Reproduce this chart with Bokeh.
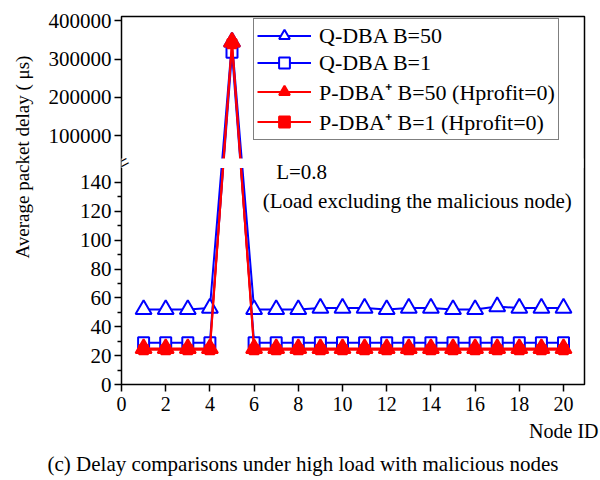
import math
from bokeh.plotting import figure
from bokeh.models import (ColumnDataSource, FixedTicker, CustomJSTransform, CustomJSTickFormatter,
                          Legend, LegendItem, Label, BoxAnnotation, Title)
from bokeh.transform import transform
from bokeh.embed import file_html
from bokeh.resources import INLINE

# ---------------- data ----------------
node_id = [1, 2, 3, 4, 5, 6, 7, 8, 9, 10, 11, 12, 13, 14, 15, 16, 17, 18, 19, 20]
q_dba_b50 = [52, 52, 52, 53, 345000, 52, 52, 52, 53, 53, 53, 52, 53, 53, 52, 52, 54, 53, 53, 53]
q_dba_b1 = [29, 29, 29, 29, 318000, 29, 29, 29, 29, 29, 29, 29, 29, 29, 29, 29, 29, 29, 29, 29]
p_dba_b50 = [25, 25, 25, 25, 345000, 25, 25, 25, 25, 25, 25, 25, 25, 25, 25, 25, 25, 25, 25, 25]
p_dba_b1 = [24, 24, 24, 24, 340000, 24, 24, 24, 24, 24, 24, 24, 24, 24, 24, 24, 24, 24, 24, 24]

x_ticks = [0, 2, 4, 6, 8, 10, 12, 14, 16, 18, 20]
y_ticks_low = [0, 20, 40, 60, 80, 100, 120, 140]
y_minor_low = [10, 30, 50, 70, 90, 110, 130]
y_ticks_high = [100000, 200000, 300000, 400000]

series_labels = ["Q-DBA B=50", "Q-DBA B=1", "P-DBA\u207a B=50 (Hprofit=0)", "P-DBA\u207a B=1 (Hprofit=0)"]
y_label = "Average packet delay ( \u03bcs)"
x_label = "Node ID"
caption = "(c) Delay comparisons under high load with malicious nodes"

# ---------------- broken-axis mapping ----------------
LOW_TOP = 150          # top of lower segment (data value == display value)
GAP_TOP = 156.6        # display position where the upper segment starts
HI_REF = 100000        # upper segment reference value
HI_REF_POS = 172.5     # display position of HI_REF
HI_STEP = 100000
HI_STEP_POS = 26.5


def disp(v):
    return v if v <= LOW_TOP else HI_REF_POS + (v - HI_REF) / HI_STEP * HI_STEP_POS


brk = CustomJSTransform(
    args=dict(lo=LOW_TOP, base=HI_REF_POS, ref=HI_REF, unit=HI_STEP, span=HI_STEP_POS),
    func="return x <= lo ? x : base + (x - ref) / unit * span;",
    v_func="""
const out = new Array(xs.length);
for (let i = 0; i < xs.length; i++) {
  const v = xs[i];
  out[i] = v <= lo ? v : base + (v - ref) / unit * span;
}
return out;
""")

src = ColumnDataSource(dict(node=node_id, q50=q_dba_b50, q1=q_dba_b1, p50=p_dba_b50, p1=p_dba_b1))

FONT = "Liberation Serif"
BLUE = "#0000ff"
RED = "#ff0000"

p = figure(width=600, height=480, x_range=(0, 20.95), y_range=(0, 255),
           output_backend="svg", toolbar_location=None,
           min_border_left=121, min_border_right=16, min_border_top=16, min_border_bottom=96)
p.background_fill_color = "white"
p.border_fill_color = "white"
p.outline_line_color = "black"
p.outline_line_width = 1.5
p.grid.visible = False

# x axis
p.xaxis.ticker = FixedTicker(ticks=x_ticks)
p.xaxis.axis_line_color = None
p.xaxis.major_tick_in = 0
p.xaxis.major_tick_out = 7
p.xaxis.major_tick_line_width = 1.5
p.xaxis.minor_tick_line_color = None
p.xaxis.major_label_standoff = 5
p.xaxis.major_label_text_font = FONT
p.xaxis.major_label_text_font_size = "20px"
p.xaxis.major_label_text_color = "black"

# y axis (broken)
tick_pos = list(y_ticks_low) + [disp(v) for v in y_ticks_high]
tick_lab = [str(v) for v in y_ticks_low] + [str(v) for v in y_ticks_high]
p.yaxis.ticker = FixedTicker(ticks=tick_pos, minor_ticks=y_minor_low)
p.yaxis.formatter = CustomJSTickFormatter(args=dict(pos=tick_pos, labs=tick_lab), code="""
for (let i = 0; i < pos.length; i++) { if (Math.abs(pos[i] - tick) < 1e-6) return labs[i]; }
return "";
""")
p.yaxis.axis_line_color = None
p.yaxis.major_tick_in = 0
p.yaxis.major_tick_out = 7
p.yaxis.minor_tick_in = 0
p.yaxis.minor_tick_out = 4
p.yaxis.major_tick_line_width = 1.5
p.yaxis.minor_tick_line_width = 1.5
p.yaxis.major_label_standoff = 3
p.yaxis.major_label_text_font = FONT
p.yaxis.major_label_text_font_size = "21px"
p.yaxis.major_label_text_color = "black"

# series
styles = [
    ("q50", BLUE, "triangle", 16, "white"),
    ("q1", BLUE, "square", 11, "white"),
    ("p50", RED, "triangle", 16, RED),
    ("p1", RED, "square", 9, RED),
]
items = []
for (col, color, marker, size, fill), lab in zip(styles, series_labels):
    ln = p.line(x="node", y=transform(col, brk), source=src, line_color=color, line_width=2)
    sc = p.scatter(x="node", y=transform(col, brk), source=src, marker=marker, size=size,
                   line_color=color, fill_color=fill, line_width=2)
    items.append(LegendItem(label=lab, renderers=[ln, sc]))

# gap of the axis break
p.add_layout(BoxAnnotation(left=-0.15, right=20.9, bottom=LOW_TOP, top=GAP_TOP,
                           fill_color="white", fill_alpha=1.0, line_color=None))
p.add_layout(Label(x=0.05, y=(LOW_TOP + GAP_TOP) / 2, text="=", angle=0.5,
                   text_align="center", text_baseline="middle",
                   text_font=FONT, text_font_size="24px", text_color="black"))

legend = Legend(items=items, location=(132, 244), orientation="vertical",
                label_text_font=FONT, label_text_font_size="22px", label_text_color="black",
                glyph_width=54, glyph_height=27, spacing=-1, padding=3, margin=0,
                label_standoff=8,
                border_line_color="black", border_line_width=1.5,
                background_fill_color="white", background_fill_alpha=1.0)
p.add_layout(legend, "center")

# annotations inside the frame
p.add_layout(Label(x=7.0, y=147, text="L=0.8", text_font=FONT, text_font_size="21px",
                   text_color="black", text_align="left", text_baseline="alphabetic"))
p.add_layout(Label(x=6.39, y=127.5, text="(Load excluding the malicious node)", text_font=FONT,
                   text_font_size="21px", text_color="black", text_align="left",
                   text_baseline="alphabetic"))

# titles outside the frame
has_standoff = "standoff" in Title.properties()


def make_title(text, size, align, offset, standoff, valign="bottom"):
    kw = dict(text=text, align=align, offset=offset, text_font=FONT, text_font_size=size,
              text_font_style="normal", text_color="black", vertical_align=valign)
    if has_standoff:
        kw["standoff"] = standoff
    return Title(**kw)


p.add_layout(make_title(y_label, "19px", "left", 126, 22, "top"), "left")
p.add_layout(make_title(x_label, "20px", "right", -14, 8), "below")
p.add_layout(make_title(caption, "21px", "left", -74, 8), "below")

open("out.html", "w").write(file_html(p, INLINE))
